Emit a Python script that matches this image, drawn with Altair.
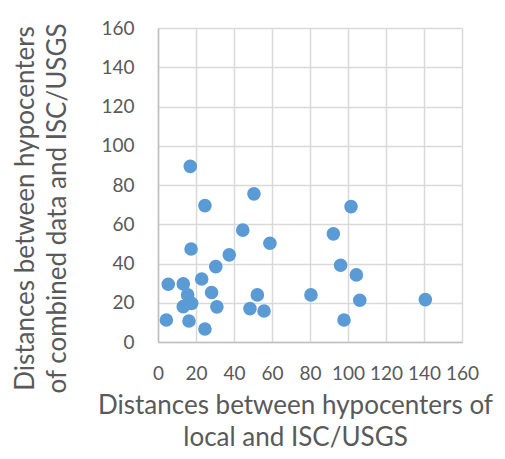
import altair as alt
import pandas as pd

x_vals = [17, 50.5, 24.7, 44.6, 58.9, 17.4, 37.5, 30.4, 23, 5.4, 13.3, 15.6, 28.2,
          17.7, 13.3, 52.3, 80.5, 31, 48.4, 55.8, 4.4, 16.3, 24.7,
          101.6, 92.3, 96.1, 104.4, 106.2, 140.7, 97.9]
y_vals = [89.5, 75.5, 69.5, 57, 50.3, 47.4, 44.4, 38.4, 32.1, 29.4, 29.6, 24, 25.2,
          19.7, 18, 24, 24, 17.9, 17, 15.8, 11.2, 10.7, 6.6,
          69, 55.1, 39.1, 34.2, 21.3, 21.6, 11.2]

df = pd.DataFrame({"x": x_vals, "y": y_vals})

FONT = "Lato"
TXT = "#595959"

chart = alt.Chart(df).mark_circle(size=185, opacity=1, color="#5B9BD5").encode(
    x=alt.X("x:Q", scale=alt.Scale(domain=[0, 160], nice=False, zero=True),
            axis=alt.Axis(values=[0, 20, 40, 60, 80, 100, 120, 140, 160],
                          title=["Distances between hypocenters of", "local and ISC/USGS"],
                          titleX=137, titleY=50, titleAlign="center", titleBaseline="top")),
    y=alt.Y("y:Q", scale=alt.Scale(domain=[0, 160], nice=False),
            axis=alt.Axis(values=[0, 20, 40, 60, 80, 100, 120, 140, 160],
                          title=["Distances between hypocenters", "of combined data and ISC/USGS"],
                          titleAngle=-90, titleX=-146, titleY=180, titleAlign="center",
                          titleBaseline="top")),
).properties(
    width=304, height=314,
    autosize=alt.AutoSizeParams(type="none"),
    padding={"left": 150, "top": 20, "right": 35, "bottom": 112},
).configure_view(stroke=None).configure_axis(
    grid=True, gridColor="#D9D9D9", gridWidth=1.5,
    domainColor="#BFBFBF", domainWidth=1.5,
    ticks=False,
    labelFont=FONT, labelFontSize=19, labelColor=TXT,
    titleFont=FONT, titleFontSize=26, titleColor=TXT, titleFontWeight="normal",
    titleLineHeight=32,
    labelOverlap=False, labelFlush=False,
).configure_axisX(labelPadding=22).configure_axisY(labelPadding=24)

chart.save("out.html", embed_options={"renderer": "svg", "actions": False})
